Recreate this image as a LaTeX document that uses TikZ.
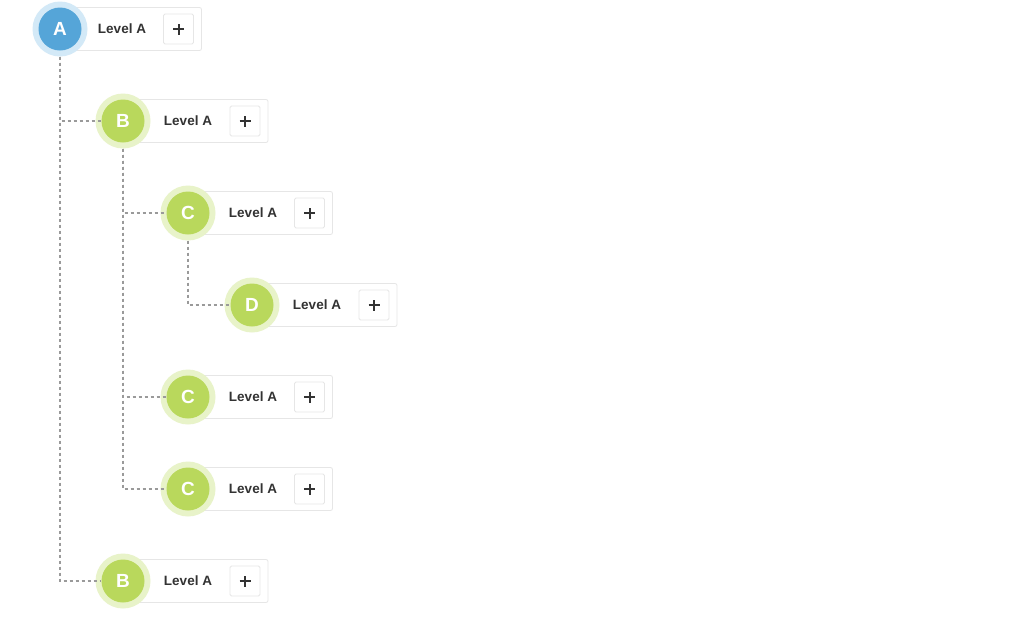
\documentclass[tikz,border=0pt]{standalone}
\usepackage{fontspec}
\setmainfont{Liberation Sans}
\definecolor{blueA}{HTML}{55A5D8}
\definecolor{blueHalo}{HTML}{D3E9F7}
\definecolor{greenB}{HTML}{B9D85C}
\definecolor{greenHalo}{HTML}{E8F3C9}
\definecolor{cardline}{HTML}{E6E6E6}
\definecolor{txt}{HTML}{333333}
\definecolor{conn}{HTML}{9A9A9A}
\tikzset{
  card/.style={draw=cardline, fill=white, rounded corners=2pt, line width=0.8pt},
  halo/.style={circle, minimum size=55pt, inner sep=0pt},
  dot/.style={circle, minimum size=43pt, inner sep=0pt, text=white, font=\fontsize{19}{19}\selectfont\bfseries},
  lbl/.style={text=txt, font=\fontsize{13.5}{15}\selectfont\bfseries, inner sep=0pt},
  plusbox/.style={draw=cardline, fill=white, rounded corners=1.5pt, minimum size=30pt, inner sep=0pt, line width=0.8pt},
  plussign/.style={draw=txt, line width=2pt},
  conline/.style={draw=conn, line width=1.2pt, dash pattern=on 3.5pt off 2.5pt},
}
% #1 name, #2 x, #3 y, #4 letter, #5 dot colour, #6 halo colour, #7 card width, #8 text offset
\newcommand\treeitem[8]{%
  \fill[card] (#2,#3-21.5) rectangle (#2+#7,#3+21.5);
  \node[plusbox] (#1p) at (#2+#7-23,#3) {};
  \draw[plussign] ([xshift=-5.5pt]#1p.center) -- ([xshift=5.5pt]#1p.center)
                  ([yshift=-5.5pt]#1p.center) -- ([yshift=5.5pt]#1p.center);
  \node[lbl] (#1t) at (#2+#8,#3) {Level A};
  \node[halo, fill=#6] (#1h) at (#2,#3) {};
  \node[dot, fill=#5] (#1) at (#2,#3) {#4};
}
\begin{document}
\begin{tikzpicture}[x=1pt,y=-1pt]
\useasboundingbox[fill=white] (0,0) rectangle (1024,619);
\treeitem{A}{60}{29}{A}{blueA}{blueHalo}{141.5}{62}
\treeitem{Ba}{123}{121}{B}{greenB}{greenHalo}{145}{65}
\treeitem{Ca}{188}{213}{C}{greenB}{greenHalo}{144.5}{65}
\treeitem{D}{252}{305}{D}{greenB}{greenHalo}{145}{65}
\treeitem{Cb}{188}{397}{C}{greenB}{greenHalo}{144.5}{65}
\treeitem{Cc}{188}{489}{C}{greenB}{greenHalo}{144.5}{65}
\treeitem{Bb}{123}{581}{B}{greenB}{greenHalo}{145}{65}
\draw[conline] (Ah.south) |- (Bb.west);
\draw[conline] (Ah.south) |- (Ba.west);
\draw[conline] (Bah.south) |- (Cc.west);
\draw[conline] (Bah.south) |- (Ca.west);
\draw[conline] (Bah.south) |- (Cb.west);
\draw[conline] (Cah.south) |- (D.west);
\end{tikzpicture}
\end{document}
